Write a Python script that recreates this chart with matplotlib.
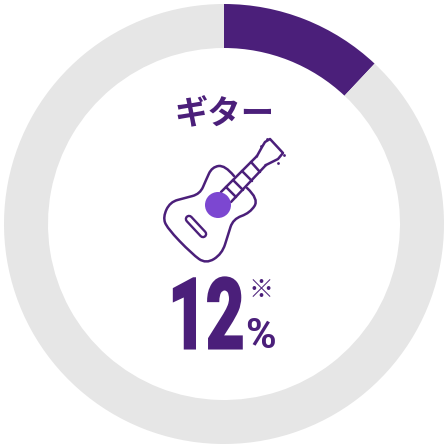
import matplotlib
matplotlib.use("Agg")
import matplotlib.patheffects as pe
import matplotlib.pyplot as plt
from matplotlib.patches import Circle, PathPatch
from matplotlib.path import Path
from matplotlib.transforms import Affine2D

# --- datos ---
values = [12, 88]
label = "ギター"
value_text = "12"
unit_text = "%"
note_text = "※"

DARK = "#4b1f7a"
LIGHT = "#7c47d1"
GREY = "#e6e6e6"

# contorno de la guitarra, en px de la imagen
body = [(234, 176), (225, 165), (212, 167), (206, 180), (200, 194), (185, 198), (170, 202),
        (163, 217), (167, 228), (192, 254), (206, 264), (222, 254), (228, 235), (233, 219),
        (250, 213), (259, 199), (247, 188)]
slot = [(189, 219), (203, 234)]
neck_top = [(221, 192), (257, 156)]
neck_low = [(231, 202), (266, 165)]
frets = [[(226, 187), (236, 197)], [(233, 180), (243, 190)],
         [(242, 171), (252, 181)], [(251, 162), (260, 172)]]
head = [(257, 156), (262, 147), (265, 142), (270, 139), (283, 153), (278, 159), (272, 162), (266, 165)]
pegs = [(261, 146), (267, 139), (284, 155), (278, 163)]
hole = (218, 205)


def smooth(points):
    # spline cuadrática abierta sobre los puntos de control
    verts, codes = [points[0]], [Path.MOVETO]
    for i in range(1, len(points) - 2):
        a, b = points[i], points[i + 1]
        verts += [a, ((a[0] + b[0]) / 2, (a[1] + b[1]) / 2)]
        codes += [Path.CURVE3, Path.CURVE3]
    verts += [points[-2], points[-1]]
    codes += [Path.CURVE3, Path.CURVE3]
    return Path(verts, codes)


class SqueezeX(pe.AbstractPathEffect):
    """Estrecha el texto en horizontal, manteniéndolo como texto."""

    def __init__(self, x0, sx):
        super().__init__()
        self.x0, self.sx = x0, sx

    def draw_path(self, renderer, gc, tpath, affine, rgbFace=None):
        squeeze = Affine2D().translate(-self.x0, 0).scale(self.sx, 1).translate(self.x0, 0)
        gc0 = renderer.new_gc()
        gc0.copy_properties(gc)
        gc0.set_linewidth(2.2)
        gc0.set_foreground(DARK)
        gc0.set_joinstyle("miter")
        renderer.draw_path(gc0, tpath, affine + squeeze, rgbFace)
        gc0.restore()


fig = plt.figure(figsize=(4.48, 4.48), dpi=100)

# --- anillo ---
ax_pie = fig.add_axes([0, 0, 1, 1])
ax_pie.pie(values, radius=220, startangle=90, counterclock=False, colors=[DARK, GREY],
           wedgeprops={"width": 44, "linewidth": 0})
ax_pie.set_xlim(-224, 224)
ax_pie.set_ylim(-224, 224)
ax_pie.set_aspect("equal")
ax_pie.axis("off")

# --- icono y textos, en px ---
ax = fig.add_axes([0, 0, 1, 1])
ax.set_xlim(0, 448)
ax.set_ylim(448, 0)
ax.axis("off")
ax.patch.set_alpha(0)

lw = 1.8
ax.add_patch(PathPatch(smooth(body), fill=False, ec=DARK, lw=lw, capstyle="round"))
ax.plot(*zip(*slot), color=DARK, lw=6.2, solid_capstyle="round")
ax.plot(*zip(*slot), color="white", lw=2.8, solid_capstyle="round")
for seg in [neck_top, neck_low] + frets:
    ax.plot(*zip(*seg), color=DARK, lw=lw, solid_capstyle="round")
ax.plot(*zip(*head), color=DARK, lw=lw, solid_joinstyle="round")
ax.scatter(*zip(*pegs), s=4, color=DARK, linewidths=0)
ax.add_patch(Circle(hole, 13, fc=LIGHT, ec="none", zorder=3))

jp = ["Noto Sans CJK JP", "DejaVu Sans"]
ax.text(224.5, 115, label, family=jp, weight="bold", fontsize=24, color=DARK, ha="center", va="center")
num = ax.text(169, 348, value_text, family="Roboto", weight="bold", fontsize=70,
              color=DARK, ha="left", va="baseline")
fig.canvas.draw()
x0 = num.get_window_extent().x0
num.set_path_effects([SqueezeX(x0, 0.67)])
ax.text(245, 348, unit_text, family="Roboto", weight="bold", fontsize=30, color=DARK, ha="left", va="baseline")
ax.text(261, 290, note_text, family=jp, fontsize=18, color=DARK, ha="center", va="center")

fig.savefig("out.png", dpi=100)
